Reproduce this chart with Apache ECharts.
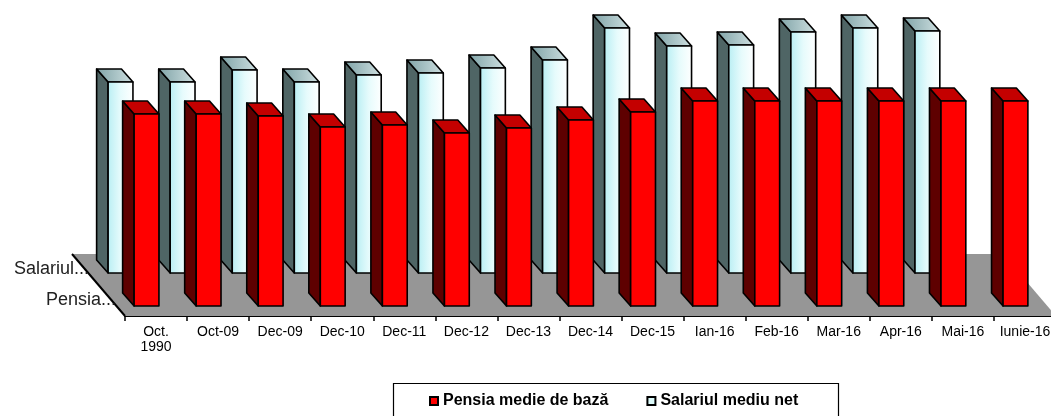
<!DOCTYPE html>
<html><head><meta charset="utf-8">
<script src="https://cdn.jsdelivr.net/npm/echarts@6/dist/echarts.min.js"></script>
<style>html,body{margin:0;padding:0;background:#fff}#c{width:1051px;height:416px}</style>
</head><body><div id="c"></div>
<script>
// ---- data (value axis is not shown, units are relative) ----
const categories = ['Oct.\n1990','Oct-09','Dec-09','Dec-10','Dec-11','Dec-12','Dec-13','Dec-14','Dec-15','Ian-16','Feb-16','Mar-16','Apr-16','Mai-16','Iunie-16'];
const pensia   = [192,192,190,179,181,173,178,186,194,205,205,205,205,205,205];
const salariul = [191,191,203,191,198,200,205,213,245,227,228,241,245,242,null];
const seriesNames = ['Pensia medie de bază','Salariul mediu net'];
const depthLabels = ['Salariul...','Pensia...'];

const FONT = "'Liberation Sans', Arial, sans-serif";
const DEPTH = [-11.5, -13];

function barRenderer(off, pal){
  return function(params, api){
    const v = api.value(1);
    if (v == null || isNaN(v)) return null;
    const i = api.value(0);
    const b = api.coord([i, 0]), t = api.coord([i, v]);
    const w = api.size([1, 0])[0] * 0.4;
    const x0 = b[0] + off[0] - w / 2, x1 = x0 + w;
    const yb = b[1] + off[1], yt = t[1] + off[1];
    const dx = DEPTH[0], dy = DEPTH[1];
    const st = {stroke:'#000', lineWidth:1.6, lineJoin:'round'};
    return {type:'group', children:[
      {type:'polygon', shape:{points:[[x0,yb],[x0,yt],[x0+dx,yt+dy],[x0+dx,yb+dy]]}, style:Object.assign({fill:pal.side}, st)},
      {type:'polygon', shape:{points:[[x0,yt],[x1,yt],[x1+dx,yt+dy],[x0+dx,yt+dy]]}, style:Object.assign({fill:pal.top}, st)},
      {type:'rect', shape:{x:x0, y:yt, width:w, height:yb-yt}, style:Object.assign({fill:pal.front}, st)}
    ]};
  };
}

function floorRenderer(params, api){
  const cs = params.coordSys;
  const xl = cs.x, xr = cs.x + cs.width, yf = cs.y + cs.height;
  const dx = -53, dy = -62;
  return {type:'group', children:[
    {type:'polygon', shape:{points:[[xl,yf],[xr,yf],[xr+dx,yf+dy],[xl+dx,yf+dy]]}, style:{fill:'#969696'}},
    {type:'polyline', shape:{points:[[xl+dx,yf+dy],[xl,yf]]}, style:{stroke:'#000', lineWidth:2, fill:null}},
    {type:'text', style:{text:depthLabels[0], x:xl-36, y:yf-47, align:'right', verticalAlign:'middle', font:'18px ' + FONT, fill:'#222'}},
    {type:'text', style:{text:depthLabels[1], x:xl-9, y:yf-16, align:'right', verticalAlign:'middle', font:'18px ' + FONT, fill:'#222'}}
  ]};
}

const whiteFront = new echarts.graphic.LinearGradient(0, 0, 1, 0, [
  {offset:0, color:'#b8eef3'}, {offset:0.5, color:'#e6fbfc'}, {offset:1, color:'#ffffff'}]);
const whiteTop = new echarts.graphic.LinearGradient(0, 0, 1, 0, [
  {offset:0, color:'#7fa3a7'}, {offset:1, color:'#cfe0e1'}]);

const chart = echarts.init(document.getElementById('c'), null, {renderer:'canvas'});
chart.setOption({
  animation:false,
  backgroundColor:'#fff',
  grid:{left:125, right:-5, top:16, bottom:100, containLabel:false, outerBoundsMode:'none'},
  xAxis:{
    type:'category', data:categories, boundaryGap:true,
    axisLine:{show:true, lineStyle:{color:'#000', width:2}},
    axisTick:{show:true, length:5, lineStyle:{color:'#000', width:1.5}},
    axisLabel:{interval:0, margin:9, color:'#000', fontSize:14, fontFamily:FONT, lineHeight:15},
    splitLine:{show:false}
  },
  yAxis:{type:'value', min:0, max:300, show:false, splitLine:{show:false}},
  legend:{
    left:429, top:393, padding:0, itemGap:38, itemWidth:8, itemHeight:8, z:10,
    textStyle:{fontSize:16, fontWeight:'bold', fontFamily:FONT, color:'#000'},
    data:[
      {name:seriesNames[0], icon:'rect', itemStyle:{color:'#ff0000', borderColor:'#000', borderWidth:2}},
      {name:seriesNames[1], icon:'rect', itemStyle:{color:'#dcfafa', borderColor:'#000', borderWidth:2}}
    ]
  },
  graphic:[{type:'rect', z:0, shape:{x:393.5, y:383.5, width:445, height:60}, style:{fill:'#fff', stroke:'#000', lineWidth:1.2}}],
  series:[
    {type:'custom', name:'floor', z:1, silent:true, renderItem:floorRenderer, data:[[0,0]]},
    {type:'custom', name:seriesNames[1], z:2, itemStyle:{color:'#dcfafa'},
     renderItem:barRenderer([-35.5,-43], {front:whiteFront, side:'#4f6565', top:whiteTop}),
     data:salariul.map((v,i)=>[i,v])},
    {type:'custom', name:seriesNames[0], z:3, itemStyle:{color:'#ff0000'},
     renderItem:barRenderer([-9.5,-10], {front:'#ff0000', side:'#5e0000', top:'#c40000'}),
     data:pensia.map((v,i)=>[i,v])}
  ]
});
</script></body></html>
